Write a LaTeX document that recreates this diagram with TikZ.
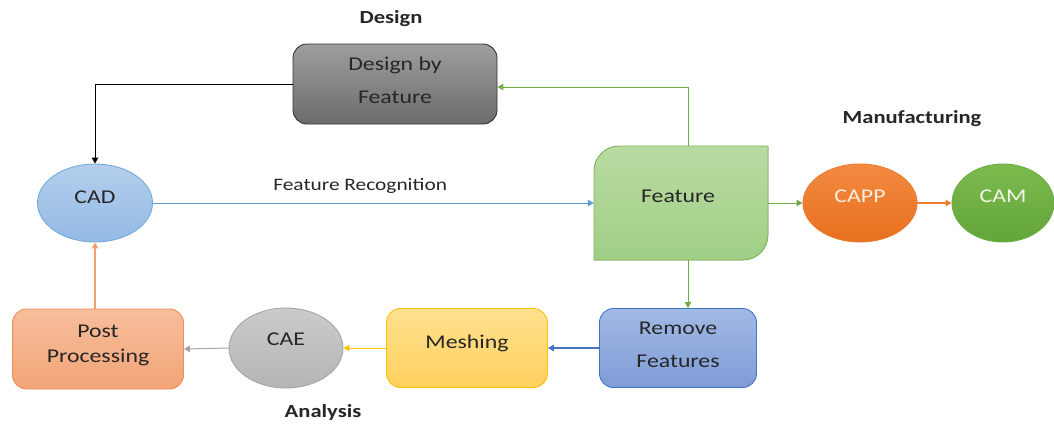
\documentclass[tikz,border=0pt]{standalone}
\usepackage{fontspec}
\setmainfont{Carlito}[FakeStretch=1.22]
\usetikzlibrary{arrows.meta,shapes.geometric,calc}
\definecolor{txt}{HTML}{262626}
\definecolor{arrblue}{HTML}{5B9BD5}
\definecolor{arrgreen}{HTML}{70AD47}
\definecolor{arrorange}{HTML}{ED7D31}
\definecolor{arrdblue}{HTML}{4472C4}
\definecolor{arryellow}{HTML}{FFC000}
\definecolor{arrgray}{HTML}{A5A5A5}
\definecolor{arrsalmon}{HTML}{F4A070}
\definecolor{cadT}{HTML}{B3CFEC}\definecolor{cadB}{HTML}{94BAE4}
\definecolor{featT}{HTML}{B9DBA3}\definecolor{featB}{HTML}{A0CE84}
\definecolor{cappD}{HTML}{EB7A32}\definecolor{cappT}{HTML}{F28A40}\definecolor{cappB}{HTML}{E8701F}\definecolor{cappTx}{HTML}{FDEFE3}
\definecolor{camD}{HTML}{6AAE42}\definecolor{camT}{HTML}{7DBA4E}\definecolor{camB}{HTML}{62A53A}\definecolor{camTx}{HTML}{F0F7EA}
\definecolor{remT}{HTML}{A3B9E4}\definecolor{remB}{HTML}{7F9CD7}
\definecolor{meshT}{HTML}{FFE18F}\definecolor{meshB}{HTML}{FFD05E}
\definecolor{caeT}{HTML}{CBCBCB}\definecolor{caeB}{HTML}{B5B5B5}
\definecolor{postD}{HTML}{EE8C5A}\definecolor{postT}{HTML}{F7BE9B}\definecolor{postB}{HTML}{F2A477}
\tikzset{
  lbl/.style={font=\fontsize{19.5}{22}\selectfont, text=txt},
  bold/.style={font=\fontsize{18.5}{20}\selectfont\bfseries, text=txt},
  boxnode/.style={rectangle, rounded corners=14pt, line width=0.9pt, inner sep=0pt, align=center, lbl},
  ellnode/.style={ellipse, line width=0.9pt, inner sep=0pt, lbl},
  con/.style={line width=1pt, -{Triangle[width=6.5pt,length=6pt]}},
}
\newcommand{\up}[2]{\raisebox{#1}[\height][\depth]{#2}}
\begin{document}
\begin{tikzpicture}[x=1pt,y=-1pt]
\useasboundingbox (0,0) rectangle (1054,424);
% labels
\node[bold] (tdesign) at (391,19) {Design};
\node[bold] (tmanu) at (912,119) {Manufacturing};
\node[bold] (tanal) at (323,412) {Analysis};
% design box
\node[boxnode, draw=black!80, top color=black!38, bottom color=black!58,
  minimum width=204pt, minimum height=80pt, font=\fontsize{19.5}{33}\selectfont] (design) at (395,84) {\up{4pt}{Design by}\\\up{4pt}{Feature}};
% CAD
\node[ellnode, draw=arrblue!85, top color=cadT, bottom color=cadB,
  minimum width=115pt, minimum height=78pt] (CAD) at (95,203) {\up{6pt}{CAD}};
% Feature shape
\fill[top color=featT, bottom color=featB] (594,260) -- (594,171) .. controls (594,157.2) and (605.2,146) .. (619,146) -- (768,146) -- (768,235) .. controls (768,248.8) and (756.8,260) .. (743,260) -- cycle;
\draw[line width=0.9pt, draw=arrgreen!90] (594,260) -- (594,171) .. controls (594,157.2) and (605.2,146) .. (619,146) -- (768,146) -- (768,235) .. controls (768,248.8) and (756.8,260) .. (743,260) -- cycle;
\node[rectangle, inner sep=0pt, minimum width=174pt, minimum height=114pt, lbl] (feat) at (681,203) {};
\node[lbl] (feattxt) at (678,196) {Feature};
% CAPP, CAM
\node[ellnode, draw=cappD, top color=cappT, bottom color=cappB,
  minimum width=114pt, minimum height=78pt, text=cappTx] (CAPP) at (860,203) {\up{7pt}{CAPP}};
\node[ellnode, draw=camD, top color=camT, bottom color=camB,
  minimum width=102pt, minimum height=78pt, text=camTx] (CAM) at (1003,203) {\up{7pt}{CAM}};
% bottom row
\node[boxnode, draw=arrdblue, top color=remT, bottom color=remB,
  minimum width=157pt, minimum height=79pt, font=\fontsize{19.5}{33}\selectfont] (remove) at (678,348) {\up{3pt}{Remove}\\\up{3pt}{Features}};
\node[boxnode, draw=arryellow, top color=meshT, bottom color=meshB,
  minimum width=161pt, minimum height=79pt] (mesh) at (467,348) {\up{5pt}{Meshing}};
\node[ellnode, draw=arrgray, top color=caeT, bottom color=caeB,
  minimum width=114pt, minimum height=80pt] (CAE) at (286,348) {\up{9pt}{CAE}};
\node[boxnode, draw=postD, top color=postT, bottom color=postB,
  minimum width=171pt, minimum height=80pt, font=\fontsize{19.5}{25}\selectfont] (post) at (98,349) {\up{4pt}{Post}\\\up{4pt}{Processing}};
% connectors
\draw[con, black] (design.west) -| (CAD.north);
\draw[con, arrblue] (CAD.east) -- (feat.west) node[pos=0.47, above=6pt, lbl, font=\fontsize{17.5}{20}\selectfont, text=txt] (featrec) {Feature Recognition};
\draw[con, arrgreen] ([xshift=7pt]feat.north) |- ([yshift=-3pt]design.east);
\draw[con, arrgreen] (feat.east) -- (CAPP.west);
\draw[con, arrorange, line width=1.5pt] (CAPP.east) -- (CAM.west);
\draw[con, arrgreen] ([xshift=7pt]feat.south) -- ([xshift=7pt]feat.south |- remove.north);
\draw[con, arrdblue, line width=1.6pt] (remove.west) -- (mesh.east);
\draw[con, arryellow] (mesh.west) -- (CAE.east);
\draw[con, arrgray] (CAE.west) -- (post.east);
\draw[con, arrsalmon, line width=1.3pt] (CAD.south |- post.north) -- (CAD.south);
\end{tikzpicture}
\end{document}
